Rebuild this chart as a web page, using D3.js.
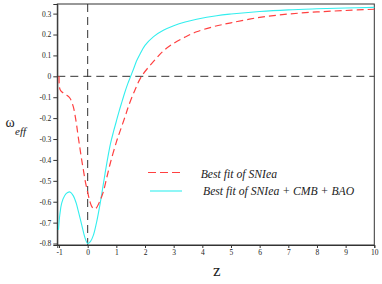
<!DOCTYPE html>
<html><head><meta charset="utf-8">
<script src="https://cdn.jsdelivr.net/npm/d3@7"></script>
<style>html,body{margin:0;padding:0;background:#fff;}svg{display:block;}</style>
</head><body>
<svg id="c" width="382" height="284"></svg>
<script>
// ---- data ----
const zRed = [-1.0, -0.997, -0.985, -0.96, -0.907, -0.82, -0.733, -0.617, -0.502, -0.43, -0.384, -0.33, -0.269, -0.209, -0.153, -0.08, 0.0, 0.08, 0.15, 0.23, 0.3, 0.43, 0.54, 0.66, 0.8, 1.0, 1.13, 1.3, 1.42, 1.65, 1.88, 2.29, 2.63, 3.0, 3.4, 3.8, 4.4, 5.0, 6.0, 7.0, 8.0, 9.0, 10.0];
const wRed = [0.0, -0.03, -0.052, -0.064, -0.074, -0.082, -0.09, -0.105, -0.145, -0.195, -0.235, -0.29, -0.345, -0.40, -0.445, -0.505, -0.555, -0.600, -0.625, -0.635, -0.630, -0.595, -0.555, -0.488, -0.41, -0.315, -0.262, -0.195, -0.145, -0.065, 0.0, 0.07, 0.12, 0.158, 0.188, 0.213, 0.238, 0.256, 0.282, 0.298, 0.308, 0.315, 0.321];
const zCyan = [-1.02, -0.97, -0.907, -0.8, -0.7, -0.617, -0.5, -0.4, -0.327, -0.2, -0.1, 0.0, 0.1, 0.2, 0.3, 0.4, 0.5, 0.6, 0.7, 0.8, 0.9, 1.0, 1.1, 1.2, 1.3, 1.4, 1.5, 1.6, 1.7, 1.8, 2.0, 2.3, 2.64, 3.0, 3.4, 3.8, 4.5, 5.0, 6.0, 7.0, 8.0, 9.0, 10.0];
const wCyan = [-0.735, -0.66, -0.607, -0.57, -0.556, -0.553, -0.572, -0.607, -0.645, -0.715, -0.77, -0.80, -0.79, -0.76, -0.705, -0.635, -0.555, -0.47, -0.39, -0.32, -0.265, -0.215, -0.165, -0.12, -0.075, -0.035, 0.0, 0.035, 0.072, 0.10, 0.148, 0.19, 0.22, 0.242, 0.26, 0.273, 0.29, 0.298, 0.31, 0.318, 0.323, 0.327, 0.33];
const xTicks = [-1, 0, 1, 2, 3, 4, 5, 6, 7, 8, 9, 10];
const xTickLabels = ["-1", "0", "1", "2", "3", "4", "5", "6", "7", "8", "9", "10"];
const yTicks = [0.3, 0.2, 0.1, 0, -0.1, -0.2, -0.3, -0.4, -0.5, -0.6, -0.7, -0.8];
const yTickLabels = ["0.3", "0.2", "0.1", "0", "-0.1", "-0.2", "-0.3", "-0.4", "-0.5", "-0.6", "-0.7", "-0.8"];
const seriesNames = ["Best fit of SNIea", "Best fit of SNIea + CMB + BAO"];
const xLabel = "z";

// ---- drawing ----
const svg = d3.select("#c");
const L = 57.3, R = 374.3, T = 4, B = 245;
const x = d3.scaleLinear().domain([-1.06, 10]).range([L, R]);
const y = d3.scaleLinear().domain([-0.807, 0.346]).range([B, T]);
const axisCol = "#333";
const red = "#ff4040", cyan = "#33eeee";
const serif = "Liberation Serif, DejaVu Serif, serif";

// frame
svg.append("rect").attr("x", L).attr("y", T).attr("width", R - L).attr("height", B - T)
  .attr("fill", "none").attr("stroke", axisCol).attr("stroke-width", 1);

// reference dashed lines
svg.append("line").attr("x1", L).attr("x2", R).attr("y1", y(0)).attr("y2", y(0))
  .attr("stroke", axisCol).attr("stroke-width", 1).attr("stroke-dasharray", "8,5");
svg.append("line").attr("x1", x(0)).attr("x2", x(0)).attr("y1", T).attr("y2", B)
  .attr("stroke", axisCol).attr("stroke-width", 1).attr("stroke-dasharray", "8,5");

// axes
const xAxis = d3.axisBottom(x).tickValues(xTicks).tickSize(3).tickPadding(2)
  .tickFormat((d, i) => xTickLabels[i]);
const gx = svg.append("g").attr("transform", `translate(0,${B})`).call(xAxis);
const yAxis = d3.axisLeft(y).tickValues(yTicks).tickSize(4).tickPadding(2)
  .tickFormat((d, i) => yTickLabels[i]);
const gy = svg.append("g").attr("transform", `translate(${L},0)`).call(yAxis);
[gx, gy].forEach(g => {
  g.attr("font-family", serif).attr("font-size", 7.5);
  g.select(".domain").attr("stroke", axisCol);
  g.selectAll(".tick line").attr("stroke", axisCol);
  g.selectAll(".tick text").attr("fill", "#222");
});

// curves
const line = d3.line().x(d => x(d[0])).y(d => y(d[1])).curve(d3.curveCatmullRom.alpha(0.5));
svg.append("path").datum(zCyan.map((z, i) => [z, wCyan[i]]))
  .attr("d", line).attr("fill", "none").attr("stroke", cyan).attr("stroke-width", 1.1);
svg.append("path").datum(zRed.map((z, i) => [z, wRed[i]]))
  .attr("d", line).attr("fill", "none").attr("stroke", red).attr("stroke-width", 1.2)
  .attr("stroke-dasharray", "7,4");

// legend
svg.append("line").attr("x1", 148).attr("x2", 182).attr("y1", 172.5).attr("y2", 172.5)
  .attr("stroke", red).attr("stroke-width", 1.2).attr("stroke-dasharray", "8,4");
svg.append("line").attr("x1", 150).attr("x2", 182).attr("y1", 191).attr("y2", 191)
  .attr("stroke", cyan).attr("stroke-width", 1.1);
svg.append("text").attr("x", 200.7).attr("y", 177.5).text(seriesNames[0])
  .attr("font-family", serif).attr("font-style", "italic").attr("font-size", 11.7).attr("fill", "#222");
svg.append("text").attr("x", 203).attr("y", 194.5).text(seriesNames[1])
  .attr("font-family", serif).attr("font-style", "italic").attr("font-size", 11.7).attr("fill", "#222");

// axis titles
svg.append("text").attr("x", 216.7).attr("y", 276).attr("text-anchor", "middle").text(xLabel)
  .attr("font-family", serif).attr("font-size", 17).attr("fill", "#222");
svg.append("text").attr("x", 5.5).attr("y", 127).text("ω")
  .attr("font-family", serif).attr("font-size", 14).attr("fill", "#222");
svg.append("text").attr("x", 15).attr("y", 135).text("eff")
  .attr("font-family", serif).attr("font-size", 11).attr("font-style", "italic").attr("fill", "#222");
</script>
</body></html>
